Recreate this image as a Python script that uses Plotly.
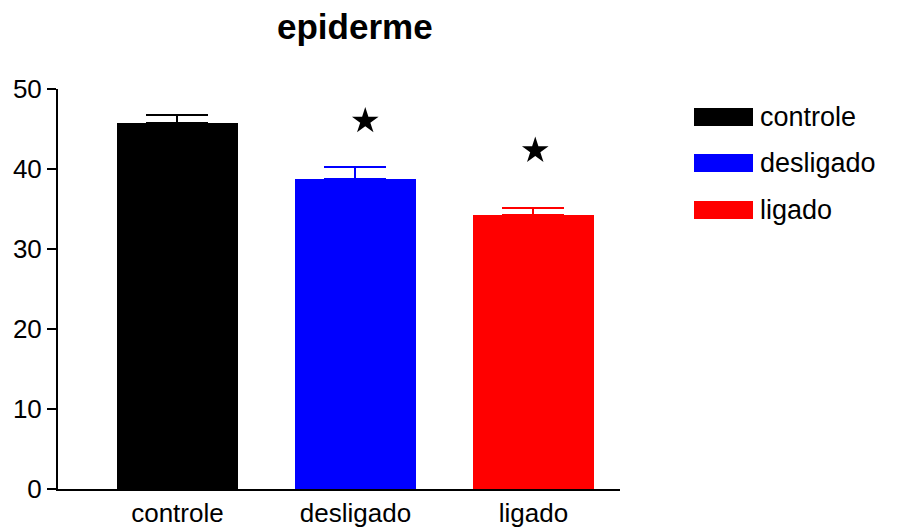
import plotly.graph_objects as go

categories = ["controle", "desligado", "ligado"]
means = [45.7, 38.7, 34.3]
sem = [1.05, 1.55, 0.85]
colors = ["#000000", "#0000ff", "#ff0000"]
star_x = [1.055, 2.01]
star_y = [46.0, 42.3]
yticks = [0, 10, 20, 30, 40, 50]

FONT = "Liberation Sans, Arial, sans-serif"
xpos = list(range(len(categories)))

# the page body has an 8px margin; offset the figure so it lines up with the window
OFF = 8
W, H = 900 - 2 * OFF, 527 - OFF
PL, PR, PT, PB = 58, 620, 89, 489  # plot area in screen pixels
PW, PH = PR - PL, PB - PT

fig = go.Figure()
for i, (c, m, e, col) in enumerate(zip(categories, means, sem, colors)):
    fig.add_trace(go.Bar(
        x=[xpos[i]], y=[m], name=c, width=0.68,
        marker=dict(color=col, line=dict(width=0)),
        error_y=dict(type="data", array=[e], arrayminus=[0], symmetric=False,
                     color=col, thickness=2, width=31),
        showlegend=False,
    ))

fig.add_trace(go.Scatter(
    x=star_x, y=star_y, mode="markers",
    marker=dict(symbol="star", size=20, color="black", line=dict(width=0)),
    showlegend=False, cliponaxis=False,
))

def px_x(px):
    return (px - PL) / PW

def px_y(py):
    return (PB - py) / PH

# Manual legend with wide swatches
leg_y = [117, 163, 210]
for c, col, yy in zip(categories, colors, leg_y):
    fig.add_shape(type="rect", xref="paper", yref="paper",
                  x0=px_x(694), x1=px_x(753),
                  y0=px_y(yy + 9), y1=px_y(yy - 9),
                  fillcolor=col, line=dict(width=0))
    fig.add_annotation(xref="paper", yref="paper",
                       x=px_x(758), y=px_y(yy),
                       text=c, showarrow=False, xanchor="left", yanchor="middle",
                       font=dict(family=FONT, size=27, color="black"))

fig.add_annotation(xref="paper", yref="paper", x=px_x(355), y=px_y(27),
                   text="<b>epiderme</b>", showarrow=False, xanchor="center", yanchor="middle",
                   font=dict(family=FONT, size=35, color="black"))

fig.update_layout(
    template="none",
    width=W, height=H, autosize=False,
    margin=dict(l=PL - OFF, r=W - (PR - OFF), t=PT - OFF, b=H - (PB - OFF), pad=0),
    plot_bgcolor="white", paper_bgcolor="white",
    font=dict(family=FONT, size=26, color="black"),
    xaxis=dict(range=[-0.671, 2.486], tickmode="array", tickvals=xpos, ticktext=categories,
               showline=True, linecolor="black", linewidth=2, ticks="", showgrid=False,
               zeroline=False, tickfont=dict(size=26), automargin=False),
    yaxis=dict(range=[0, 50], tickmode="array", tickvals=yticks,
               showline=True, linecolor="black", linewidth=2, ticks="outside", ticklen=9,
               tickwidth=2, tickcolor="black", showgrid=False, zeroline=False,
               tickfont=dict(size=26), automargin=False),
    bargap=0,
)

fig.write_html("out.html")
